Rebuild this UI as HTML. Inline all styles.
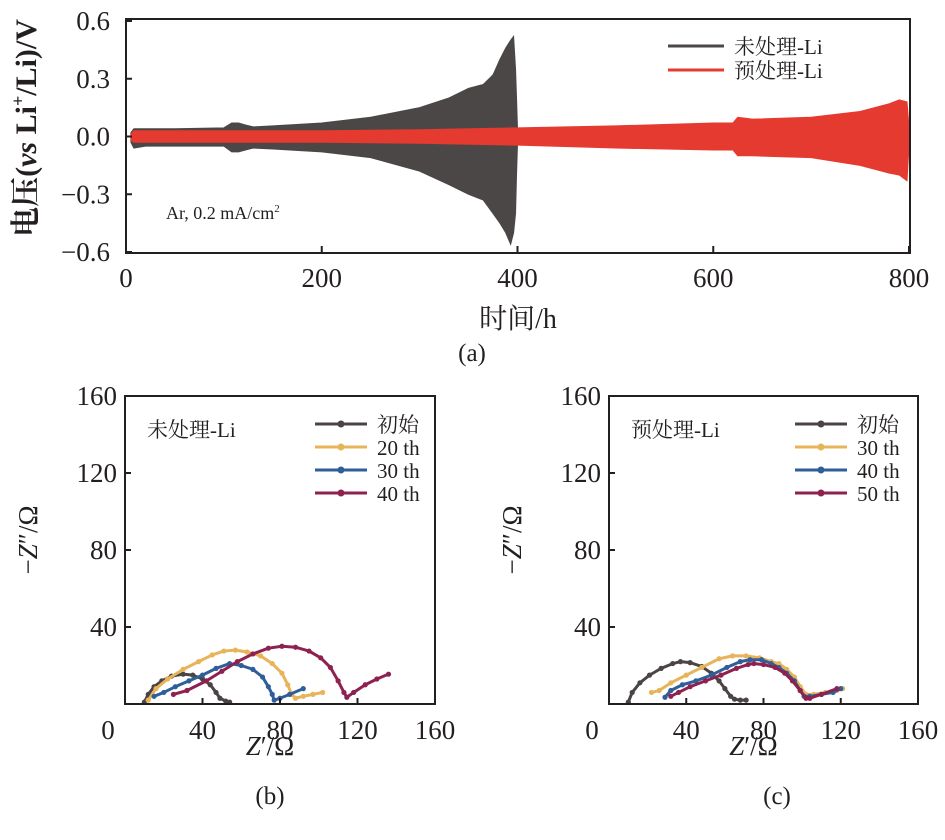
<!DOCTYPE html>
<html><head><meta charset="utf-8">
<style>
html,body{margin:0;padding:0;background:#fff;}
svg{display:block;}
text{font-family:"Liberation Serif","Noto Serif CJK SC","Noto Sans CJK SC",serif;fill:#231f20;}
</style></head>
<body>
<svg id="fig" width="945" height="840" viewBox="0 0 945 840" xmlns="http://www.w3.org/2000/svg">
<g id="gA"></g>
<g id="gB"></g>
<g id="gC"></g>
</svg>
<script>
// ---- Chart (a) data ----
const aTicksX = [0,200,400,600,800];
const aTicksY = [0.6,0.3,0.0,-0.3,-0.6];
const aTickLabelsY = ["0.6","0.3","0.0","\u22120.3","\u22120.6"];
const grayT   = [5,8,20,50,100,108,115,122,130,150,200,250,300,330,350,365,375,382,388,393,396,398,399,400];
const grayUp  = [0.02,0.04,0.04,0.04,0.045,0.07,0.07,0.06,0.05,0.055,0.07,0.1,0.15,0.2,0.25,0.27,0.32,0.4,0.46,0.5,0.52,0.35,0.2,0.04];
const grayLo  = [-0.03,-0.06,-0.05,-0.05,-0.05,-0.08,-0.08,-0.07,-0.06,-0.065,-0.08,-0.11,-0.18,-0.25,-0.3,-0.33,-0.4,-0.45,-0.5,-0.56,-0.5,-0.4,-0.2,-0.04];
const redT    = [5,8,50,100,200,300,400,500,600,620,625,640,700,750,780,790,798,800];
const redUp   = [0.01,0.03,0.03,0.03,0.03,0.035,0.045,0.055,0.07,0.07,0.1,0.09,0.1,0.13,0.17,0.19,0.18,0.05];
const redLo   = [-0.02,-0.03,-0.03,-0.03,-0.03,-0.035,-0.045,-0.06,-0.07,-0.07,-0.1,-0.1,-0.11,-0.15,-0.19,-0.2,-0.23,-0.05];

// ---- Chart (b) data ----
const zTicks = [0,40,80,120,160];
const b0x=[10,12,15,19,24,30,35,40,44,47,49,52,54];
const b0y=[1,5,9,12,14.5,15.5,15,13,10,6,3,1.5,1];
const b20x=[12,16,22,30,38,45,51,57,63,70,76,81,84,86,88,92,97,102];
const b20y=[2,8,13,18,22,25.5,27.5,28,27,25,21,16,10,5,3,4,5,6];
const b30x=[15,20,26,33,40,47,54,60,66,71,74,76,77,80,85,92];
const b30y=[4,6,9,12,15,18.5,21,20,18,14,9,5,2,3,5,8];
const b40x=[25,32,42,50,58,66,74,81,88,95,101,106,110,113,114.5,118,124,130,136];
const b40y=[5,7,12,17,22,26,29,30,29.5,27.5,24,19,12,6,3.5,6,10,13,15.5];

// ---- Chart (c) data ----
const c0x=[10,12,16,21,27,33,37,42,48,53,57,60,63,65,68,71];
const c0y=[1,6,11,15,18.5,21,22,21.5,19.5,16,12,8,4,2.5,2,2];
const c30x=[22,26,32,40,48,57,64,71,78,84,88,92,96,99,102,106,112,118,121];
const c30y=[6,7,11,15,19,23.5,25,25,24,22,21,18,14,9,5,5,6,7,8];
const c40x=[29,32,38,45,53,61,68,73,79,84,88,92,96,99,101,104,110,116,120];
const c40y=[3.5,7,10,12,15,19,22,23,23,21,19,16,12,7,4,4,5,6,8];
const c50x=[32,36,42,50,58,66,72,75,80,86,91,95,99,102,104,110,118];
const c50y=[4,6,9,12,15,18.5,20.5,21,20.5,19,16,12,7,3,3,5,8];

const NS="http://www.w3.org/2000/svg";
function mk(parent,tag,attrs,txt){const e=document.createElementNS(NS,tag);for(const k in attrs)e.setAttribute(k,attrs[k]);if(txt!==undefined)e.textContent=txt;parent.appendChild(e);return e;}

// ===== Chart (a) =====
(function(){
  const g=document.getElementById('gA');
  const L=126,R=909,T=21,B=252;
  const sx=v=>L+(v-0)/(800-0)*(R-L);
  const sy=v=>T+(0.6-v)/1.2*(B-T);
  function band(ts,up,lo,color,name){
    let d="M"+sx(ts[0])+","+sy(up[0]);
    for(let i=1;i<ts.length;i++) d+=" L"+sx(ts[i])+","+sy(up[i]);
    for(let i=ts.length-1;i>=0;i--) d+=" L"+sx(ts[i])+","+sy(lo[i]);
    d+=" Z";
    const p=mk(g,'path',{d:d,fill:color,stroke:color,'stroke-width':1});
    
    
  }
  band(grayT,grayUp,grayLo,'#4b4747','series-untreated-li');
  band(redT,redUp,redLo,'#e53a2f','series-pretreated-li');
  const box=mk(g,'rect',{x:L,y:19,width:R-L+1,height:253-19,fill:'none',stroke:'#231f20','stroke-width':2});
  
  
  aTicksX.forEach(v=>{
    mk(g,'line',{x1:sx(v),x2:sx(v),y1:253,y2:246,stroke:'#231f20','stroke-width':2});
    const t=mk(g,'text',{x:sx(v),y:287,'font-size':27,'text-anchor':'middle'},String(v));
    
    
  });
  aTicksY.forEach((v,i)=>{
    mk(g,'line',{x1:L,x2:L+6,y1:sy(v),y2:sy(v),stroke:'#231f20','stroke-width':2});
    const t=mk(g,'text',{x:110,y:sy(v)+9,'font-size':27,'text-anchor':'end'},aTickLabelsY[i]);
    
    
  });
  const xt=mk(g,'text',{x:518,y:328,'font-size':28,'text-anchor':'middle'},'时间/h');
  
  
  const yt=mk(g,'text',{transform:'translate(36,128) rotate(-90)','font-size':30,'text-anchor':'middle','font-weight':'bold'});
  
  
  mk(yt,'tspan',{},'电压(');
  mk(yt,'tspan',{'font-style':'italic'},'vs');
  mk(yt,'tspan',{},' Li');
  mk(yt,'tspan',{'font-size':18,dy:-12},'+');
  mk(yt,'tspan',{dy:12},'/Li)/V');
  const an=mk(g,'text',{x:166,y:219,'font-size':18},'Ar, 0.2 mA/cm');
  
  
  mk(an,'tspan',{'font-size':11,dy:-7},'2');
  [['#4b4747','未处理-Li',46,'legend-entry-untreated'],['#e53a2f','预处理-Li',70,'legend-entry-pretreated']].forEach(e=>{
    const lg=mk(g,'g',{});
    
    
    mk(lg,'line',{x1:668,x2:724,y1:e[2],y2:e[2],stroke:e[0],'stroke-width':3});
    mk(lg,'text',{x:734,y:e[2]+8,'font-size':21},e[1]);
  });
  const lab=mk(g,'text',{x:472,y:361,'font-size':25,'text-anchor':'middle'},'(a)');
  
  
})();

// ===== EIS charts =====
function eis(gid,L,R,title,series,legendX,panel,panelX){
  const g=document.getElementById(gid);
  const T=396,B=704;
  const sx=v=>L+v/160*(R-L);
  const sy=v=>B-v/160*(B-T);
  series.forEach(s=>{
    const sg=mk(g,'g',{});
    
    
    let pts=s.x.map((v,i)=>sx(v)+","+sy(s.y[i])).join(" ");
    mk(sg,'polyline',{points:pts,fill:'none',stroke:s.c,'stroke-width':3,'stroke-linejoin':'round'});
    s.x.forEach((v,i)=>mk(sg,'circle',{cx:sx(v),cy:sy(s.y[i]),r:2.6,fill:s.c}));
  });
  const box=mk(g,'rect',{x:L,y:T,width:R-L,height:B-T,fill:'none',stroke:'#231f20','stroke-width':2});
  
  
  zTicks.forEach(v=>{
    if(v>0&&v<160){
      mk(g,'line',{x1:sx(v),x2:sx(v),y1:B,y2:B-6,stroke:'#231f20','stroke-width':2});
      mk(g,'line',{x1:L,x2:L+6,y1:sy(v),y2:sy(v),stroke:'#231f20','stroke-width':2});
    }
    if(v===0){
      const t0=mk(g,'text',{x:L-17,y:739,'font-size':27,'text-anchor':'middle'},'0');
      
      
      return;
    }
    const t=mk(g,'text',{x:sx(v),y:739,'font-size':27,'text-anchor':'middle'},String(v));
    
    
    const t2=mk(g,'text',{x:L-8,y:sy(v)+9,'font-size':27,'text-anchor':'end'},String(v));
    
    
  });
  const xt=mk(g,'text',{x:(L+R)/2-10,y:755,'font-size':27,'text-anchor':'middle'});
  
  
  mk(xt,'tspan',{'font-style':'italic'},'Z');
  mk(xt,'tspan',{},'\u2032/Ω');
  const yt=mk(g,'text',{transform:'translate('+(L-88)+',540) rotate(-90)','font-size':27,'text-anchor':'middle'});
  
  
  mk(yt,'tspan',{},'\u2212');
  mk(yt,'tspan',{'font-style':'italic'},'Z');
  mk(yt,'tspan',{},'\u2033/Ω');
  const tt=mk(g,'text',{x:L+22,y:437,'font-size':21},title);
  
  
  series.forEach((s,i)=>{
    const y=424+i*23;
    const lg=mk(g,'g',{});
    
    
    mk(lg,'line',{x1:legendX,x2:legendX+52,y1:y,y2:y,stroke:s.c,'stroke-width':3});
    mk(lg,'circle',{cx:legendX+26,cy:y,r:3.5,fill:s.c});
    mk(lg,'text',{x:legendX+62,y:y+8,'font-size':21},s.label);
  });
  const pl=mk(g,'text',{x:panelX,y:804,'font-size':25,'text-anchor':'middle'},panel);
  
  
}
eis('gB',125,435,'未处理-Li',[
  {x:b0x,y:b0y,c:'#4b4444',label:'初始',name:'series-initial'},
  {x:b20x,y:b20y,c:'#e8b45a',label:'20 th',name:'series-20th'},
  {x:b30x,y:b30y,c:'#2f5f9a',label:'30 th',name:'series-30th'},
  {x:b40x,y:b40y,c:'#8e2150',label:'40 th',name:'series-40th'}
],315,'(b)',270);
eis('gC',609,918,'预处理-Li',[
  {x:c0x,y:c0y,c:'#4b4444',label:'初始',name:'series-initial'},
  {x:c30x,y:c30y,c:'#e8b45a',label:'30 th',name:'series-30th'},
  {x:c40x,y:c40y,c:'#2f5f9a',label:'40 th',name:'series-40th'},
  {x:c50x,y:c50y,c:'#8e2150',label:'50 th',name:'series-50th'}
],795,'(c)',777);
</script>
</body></html>
